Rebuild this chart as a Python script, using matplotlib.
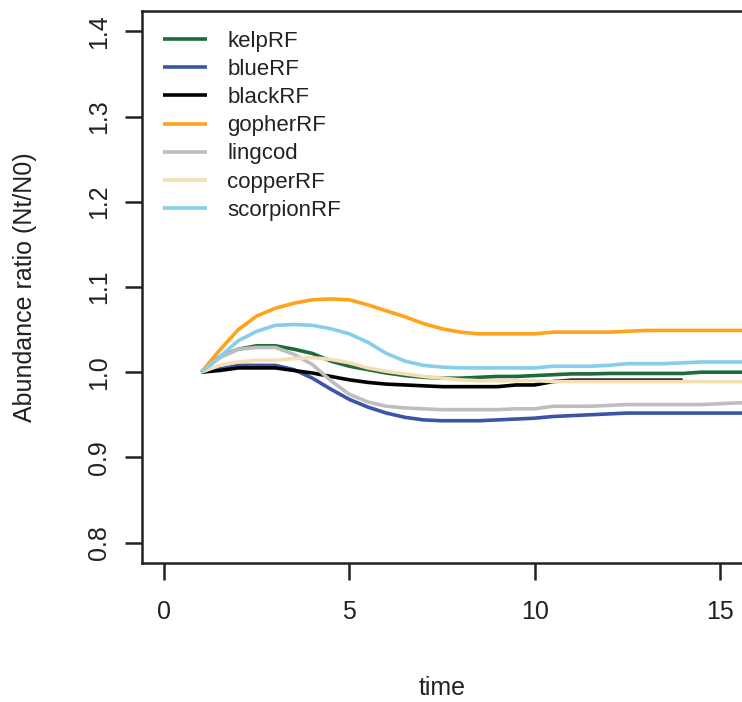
import numpy as np
import matplotlib
matplotlib.use('Agg')
import matplotlib.pyplot as plt

plt.rcParams['font.family'] = ['Liberation Sans', 'DejaVu Sans']

# time steps (years)
time = np.arange(1, 16.01, 0.5)

# abundance ratio Nt/N0 for each species, read at the time steps above
kelpRF = [1.000, 1.018, 1.027, 1.031, 1.031, 1.027, 1.022, 1.013, 1.007, 1.003,
          0.999, 0.996, 0.994, 0.993, 0.993, 0.994, 0.995, 0.995, 0.996, 0.997,
          0.998, 0.998, 0.9985, 0.9985, 0.9985, 0.9985, 0.9985, 1.000, 1.000, 1.000, 1.000]
blueRF = [1.000, 1.004, 1.008, 1.008, 1.008, 1.003, 0.993, 0.980, 0.968, 0.959,
          0.952, 0.947, 0.944, 0.943, 0.943, 0.943, 0.944, 0.945, 0.946, 0.948,
          0.949, 0.950, 0.951, 0.952, 0.952, 0.952, 0.952, 0.952, 0.952, 0.952, 0.952]
blackRF = [1.000, 1.002, 1.005, 1.005, 1.005, 1.002, 0.999, 0.995, 0.991, 0.988,
           0.986, 0.985, 0.984, 0.983, 0.983, 0.983, 0.983, 0.985, 0.985, 0.989,
           0.9906, 0.9906, 0.9906, 0.9906, 0.9906, 0.9906, 0.9906,
           np.nan, np.nan, np.nan, np.nan]
gopherRF = [1.000, 1.026, 1.050, 1.066, 1.075, 1.081, 1.085, 1.086, 1.085, 1.079,
            1.072, 1.065, 1.057, 1.051, 1.047, 1.045, 1.045, 1.045, 1.045, 1.047,
            1.047, 1.047, 1.047, 1.048, 1.049, 1.049, 1.049, 1.049, 1.049, 1.049, 1.049]
lingcod = [1.000, 1.017, 1.027, 1.029, 1.029, 1.021, 1.009, 0.990, 0.974, 0.965,
           0.960, 0.958, 0.957, 0.956, 0.956, 0.956, 0.956, 0.957, 0.957, 0.960,
           0.960, 0.960, 0.961, 0.962, 0.962, 0.962, 0.962, 0.962, 0.963, 0.964, 0.964]
copperRF = [1.000, 1.008, 1.012, 1.014, 1.014, 1.016, 1.017, 1.015, 1.011, 1.005,
            1.001, 0.998, 0.995, 0.993, 0.991, 0.990, 0.990, 0.990, 0.990, 0.989,
            0.989, 0.989, 0.989, 0.989, 0.989, 0.989, 0.989, 0.989, 0.989, 0.989, 0.989]
scorpionRF = [1.000, 1.018, 1.037, 1.048, 1.055, 1.056, 1.055, 1.051, 1.045, 1.035,
              1.022, 1.013, 1.008, 1.006, 1.005, 1.005, 1.005, 1.005, 1.005, 1.007,
              1.007, 1.007, 1.008, 1.010, 1.010, 1.010, 1.011, 1.012, 1.012, 1.012, 1.012]

species = ['kelpRF', 'blueRF', 'blackRF', 'gopherRF', 'lingcod', 'copperRF', 'scorpionRF']
series = [kelpRF, blueRF, blackRF, gopherRF, lingcod, copperRF, scorpionRF]
colors = ['#1d6b3b', '#3a55a6', '#000000', '#ffa31a', '#bebebe', '#f5deb3', '#87ceeb']

fig = plt.figure(figsize=(7.42, 7.02), dpi=100)
ax = fig.add_axes([142 / 742, 1 - 563 / 702, 600 / 742, 552 / 702])

for name, vals, col in zip(species, series, colors):
    ax.plot(time, vals, color=col, lw=2.6, label=name, solid_capstyle='butt')

ax.set_xlim(-0.6, 15.6)
ax.set_ylim(0.776, 1.424)
ax.set_xticks([0, 5, 10, 15])
ax.set_yticks([0.8, 0.9, 1.0, 1.1, 1.2, 1.3, 1.4])
ax.set_yticklabels(['0.8', '0.9', '1.0', '1.1', '1.2', '1.3', '1.4'],
                   rotation=90, va='center')

for s in ['left', 'top', 'bottom']:
    ax.spines[s].set_linewidth(1.8)
    ax.spines[s].set_color('#222222')
ax.spines['right'].set_visible(False)

ax.tick_params(axis='both', direction='out', length=12.5, width=1.8,
               color='#222222', labelsize=18, labelcolor='#222222')
ax.tick_params(axis='x', pad=14)
ax.tick_params(axis='y', pad=10)

fig.text(442 / 742, 1 - 688 / 702, 'time', ha='center', va='center',
         fontsize=18, color='#222222')
fig.text(25 / 742, 1 - 287 / 702, 'Abundance ratio (Nt/N0)', ha='center',
         va='center', rotation=90, fontsize=18, color='#222222')

ax.legend(loc='upper left', bbox_to_anchor=(163 / 742, 1 - 31 / 702),
          bbox_transform=fig.transFigure, frameon=False, fontsize=16,
          handlelength=2.0, handletextpad=0.9, labelspacing=0.32,
          borderpad=0, borderaxespad=0, labelcolor='#222222')

fig.savefig('out.png', dpi=100)
